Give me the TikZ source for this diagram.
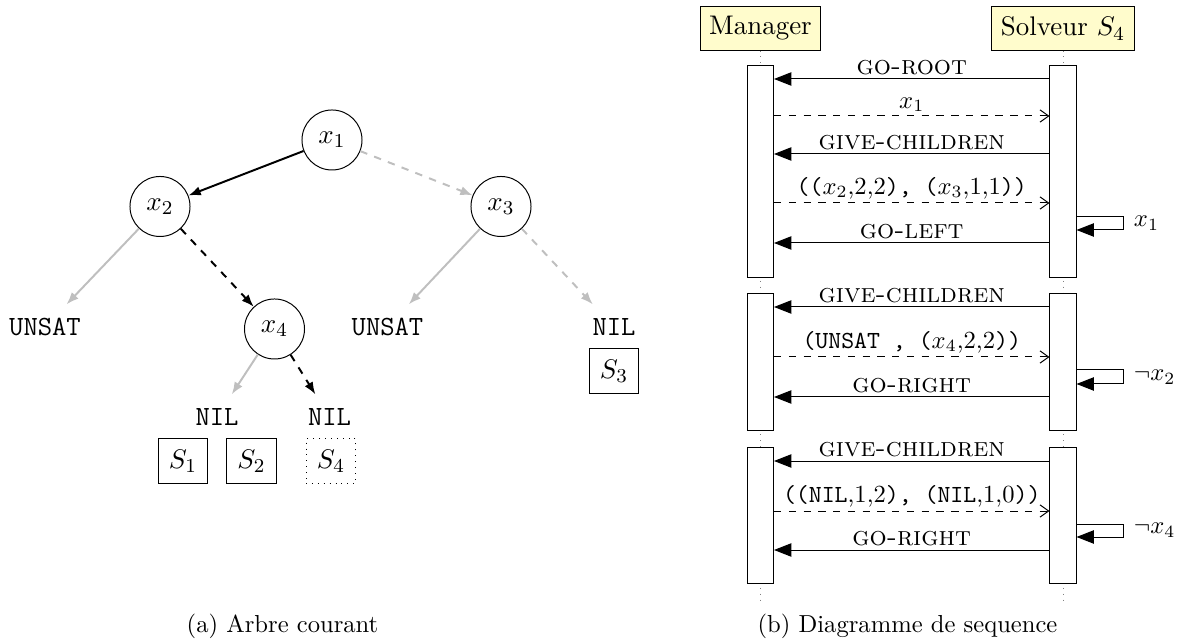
\documentclass[tikz,border=0pt]{standalone}
\usetikzlibrary{arrows.meta,calc}
\newcommand{\scx}[1]{{\fontsize{10.95}{13}\selectfont\textsc{#1}}}
\begin{document}
\begin{tikzpicture}[x=0.4065pt,y=-0.4065pt,
  tnode/.style={circle,draw,minimum size=24.4pt,inner sep=0pt,font=\fontsize{10.95}{13.6}\selectfont},
  leaf/.style={inner sep=3pt,minimum height=18pt,font=\fontsize{11.3}{13.6}\selectfont\ttfamily},
  sbox/.style={draw,minimum width=20.3pt,minimum height=17.9pt,inner sep=0pt,font=\fontsize{10.95}{13.6}\selectfont},
  blk/.style={thick,-{Latex[length=5pt,width=3.8pt]}},
  gry/.style={thick,draw=gray!50,-{Latex[length=5pt,width=3.8pt]}},
  actor/.style={draw,fill=yellow!20,inner sep=3.67pt,minimum height=17.5pt,font=\fontsize{10.95}{13.6}\selectfont},
  bar/.style={draw,fill=white,minimum width=10.6pt,inner sep=0pt},
  call/.style={-{Triangle[length=7pt,width=5.4pt]}},
  ret/.style={dashed,-{Straight Barb[length=3.5pt,width=5pt]}},
  lbl/.style={above,inner sep=1.5pt,font=\fontsize{10}{12}\selectfont},
  side/.style={anchor=west,inner sep=1pt,font=\fontsize{10}{12}\selectfont},
  life/.style={dotted,gray},
  captxt/.style={font=\fontsize{10}{12}\selectfont}
]
\useasboundingbox (0,0) rectangle (1181,642);

% ---------- tree ----------
\node[tnode] (x1) at (332,140) {$x_1$};
\node[tnode] (x2) at (160,206.5) {$x_2$};
\node[tnode] (x3) at (501,206.5) {$x_3$};
\node[tnode] (x4) at (274.5,329) {$x_4$};
\node[leaf] (u1) at (45,327) {UNSAT};
\node[leaf] (u2) at (387.5,327) {UNSAT};
\node[leaf] (n3) at (614,327) {NIL};
\node[leaf] (n4a) at (217,417) {NIL};
\node[leaf] (n4b) at (329.5,417) {NIL};
\node[sbox] (s1) at (183,461) {$S_1$};
\node[sbox] (s2) at (251.5,461) {$S_2$};
\node[sbox,dotted] (s4) at (331,461) {$S_4$};
\node[sbox] (s3) at (614,371) {$S_3$};

\draw[blk] (x1) -- (x2);
\draw[gry,dashed] (x1) -- (x3);
\draw[gry] (x2) -- (u1);
\draw[blk,dashed] (x2) -- (x4);
\draw[gry] (x3) -- (u2);
\draw[gry,dashed] (x3) -- (n3);
\draw[gry] (x4) -- (n4a);
\draw[blk,dashed] (x4) -- (n4b);

\node[captxt] (capa) at (282.5,626) {(a) Arbre courant};

% ---------- sequence diagram ----------
\node[actor] (mgr) at (760.5,28.5) {Manager};
\node[actor] (sol) at (1063,28.5) {Solveur $S_4$};
\coordinate (mend) at (760.5,600);
\coordinate (send) at (1063,600);
\draw[life] (mgr) -- (mend);
\draw[life] (sol) -- (send);

\node[bar,minimum height=85.8pt] (mb1) at (760.5,171.5) {};
\node[bar,minimum height=55.3pt] (mb2) at (760.5,362) {};
\node[bar,minimum height=54.9pt] (mb3) at (760.5,515.5) {};
\node[bar,minimum height=85.8pt] (sb1) at (1063,171.5) {};
\node[bar,minimum height=55.3pt] (sb2) at (1063,362) {};
\node[bar,minimum height=54.9pt] (sb3) at (1063,515.5) {};

% block 1
\coordinate (a1) at (0,79);
\coordinate (a2) at (0,116);
\coordinate (a3) at (0,154);
\coordinate (a4) at (0,203);
\coordinate (a5) at (0,243);
\coordinate (l1a) at (0,216.5);
\coordinate (l1b) at (0,230);
\draw[call] (sb1.west |- a1) -- node[lbl] {\scx{go-root}} (mb1.east |- a1);
\draw[ret] (mb1.east |- a2) -- node[lbl] {$x_1$} (sb1.west |- a2);
\draw[call] (sb1.west |- a3) -- node[lbl] {\scx{give-children}} (mb1.east |- a3);
\draw[ret] (mb1.east |- a4) -- node[lbl] {\texttt{((}$x_2$,2,2\texttt{), (}$x_3$,1,1\texttt{))}} (sb1.west |- a4);
\draw[call] (sb1.east |- l1a) -- ++(47,0) |- (sb1.east |- l1b);
\node[side] (t1) at (1131,223) {$x_1$};
\draw[call] (sb1.west |- a5) -- node[lbl] {\scx{go-left}} (mb1.east |- a5);

% block 2
\coordinate (b1) at (0,307);
\coordinate (b2) at (0,357);
\coordinate (b3) at (0,397);
\coordinate (l2a) at (0,370);
\coordinate (l2b) at (0,384);
\draw[call] (sb2.west |- b1) -- node[lbl] {\scx{give-children}} (mb2.east |- b1);
\draw[ret] (mb2.east |- b2) -- node[lbl] {\texttt{(UNSAT , (}$x_4$,2,2\texttt{))}} (sb2.west |- b2);
\draw[call] (sb2.east |- l2a) -- ++(47,0) |- (sb2.east |- l2b);
\node[side] (t2) at (1131,377) {$\neg x_2$};
\draw[call] (sb2.west |- b3) -- node[lbl] {\scx{go-right}} (mb2.east |- b3);

% block 3
\coordinate (c1) at (0,461);
\coordinate (c2) at (0,511);
\coordinate (c3) at (0,550);
\coordinate (l3a) at (0,524);
\coordinate (l3b) at (0,537);
\draw[call] (sb3.west |- c1) -- node[lbl] {\scx{give-children}} (mb3.east |- c1);
\draw[ret] (mb3.east |- c2) -- node[lbl] {\texttt{((NIL},1,2\texttt{), (NIL},1,0\texttt{))}} (sb3.west |- c2);
\draw[call] (sb3.east |- l3a) -- ++(47,0) |- (sb3.east |- l3b);
\node[side] (t3) at (1131,530.5) {$\neg x_4$};
\draw[call] (sb3.west |- c3) -- node[lbl] {\scx{go-right}} (mb3.east |- c3);

\node[captxt] (capb) at (907.5,626) {(b) Diagramme de sequence};
\end{tikzpicture}
\end{document}
